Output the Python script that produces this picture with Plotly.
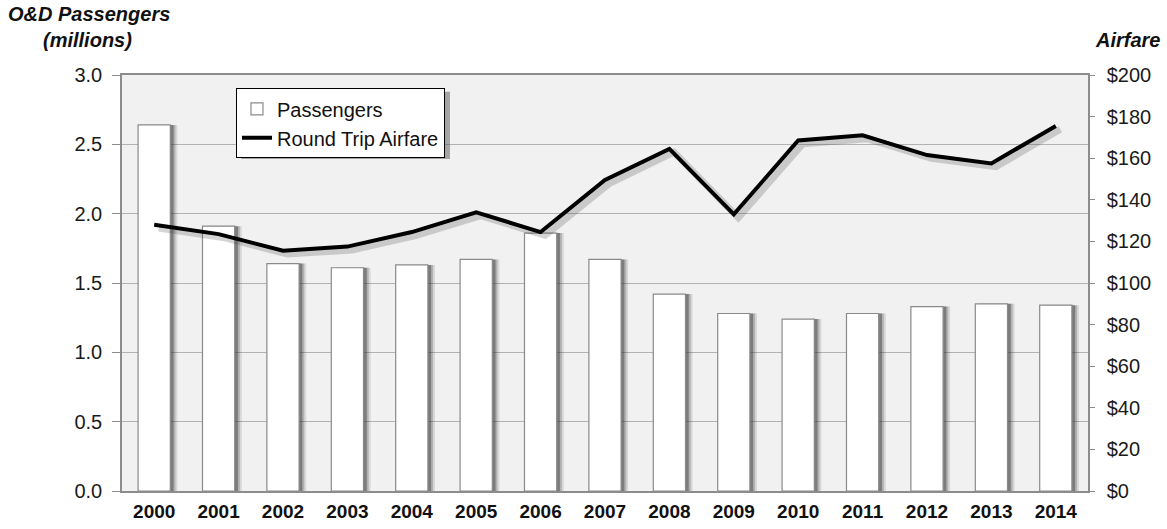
import plotly.graph_objects as go

# Annual O&D passengers (millions) and average round-trip airfare (USD)
years = [2000, 2001, 2002, 2003, 2004, 2005, 2006, 2007, 2008, 2009, 2010, 2011, 2012, 2013, 2014]
passengers = [2.64, 1.91, 1.64, 1.61, 1.63, 1.67, 1.86, 1.67, 1.42, 1.28, 1.24, 1.28, 1.33, 1.35, 1.34]
airfare = [128, 123.5, 115.5, 117.5, 124.5, 134, 124.5, 149.5, 164.5, 133, 168.5, 171, 161.5, 157.5, 175.5]
year_labels = [str(y) for y in years]

FONT = "Liberation Sans, Arial, sans-serif"
BAR_W = 0.5

fig = go.Figure()

# soft drop shadow to the right of each bar
for shift, alpha in [(0.11, 0.12), (0.08, 0.22), (0.05, 0.38)]:
    fig.add_trace(go.Bar(
        x=years, y=passengers, width=BAR_W, offset=-BAR_W / 2 + shift,
        marker=dict(color=f"rgba(40,40,40,{alpha})", line=dict(width=0)),
        showlegend=False, hoverinfo="skip",
    ))

fig.add_trace(go.Bar(
    x=years, y=passengers, width=BAR_W, name="Passengers",
    marker=dict(color="#ffffff", line=dict(color="#8a8a8a", width=1.2)),
))

# shadow under the airfare line
fig.add_trace(go.Scatter(
    x=[y + 0.07 for y in years], y=[a - 1.6 for a in airfare], yaxis="y2",
    mode="lines", line=dict(color="rgba(60,60,60,0.22)", width=7),
    showlegend=False, hoverinfo="skip",
))
fig.add_trace(go.Scatter(
    x=years, y=airfare, yaxis="y2", name="Round Trip Airfare",
    mode="lines", line=dict(color="#000000", width=4),
))

# legend drop shadow (paper coordinates, drawn beneath the legend box)
fig.add_shape(type="rect", xref="paper", yref="paper",
              x0=0.1235, x1=0.3395, y0=0.798, y1=0.960,
              line=dict(width=0), fillcolor="rgba(70,70,70,0.45)", layer="above")

fig.update_layout(
    width=1167, height=529,
    margin=dict(l=122, r=79, t=75, b=38, autoexpand=False),
    paper_bgcolor="#ffffff",
    plot_bgcolor="#f1f1f1",
    barmode="overlay",
    font=dict(family=FONT, color="#1a1a1a"),
    xaxis=dict(
        range=[1999.5, 2014.5], tickvals=years, ticktext=year_labels,
        tickfont=dict(size=19, family=FONT, color="#111111", weight="bold"),
        showgrid=False, showline=True, linecolor="#8c8c8c", linewidth=1.5,
        mirror=True, ticks="", zeroline=False, ticklabelstandoff=2,
        automargin=False,
    ),
    yaxis=dict(
        range=[0, 3], dtick=0.5, tickformat=".1f",
        tickfont=dict(size=20, family=FONT, color="#1a1a1a"),
        showgrid=True, gridcolor="#b2b2b2", gridwidth=1,
        showline=True, linecolor="#8c8c8c", linewidth=1.5,
        ticks="outside", ticklen=8, tickcolor="#8c8c8c", zeroline=False,
        ticklabelstandoff=6, automargin=False,
    ),
    yaxis2=dict(
        range=[0, 200], dtick=20, tickprefix="$", overlaying="y", side="right",
        tickfont=dict(size=20, family=FONT, color="#1a1a1a"),
        showgrid=False, showline=True, linecolor="#8c8c8c", linewidth=1.5,
        ticks="outside", ticklen=5, tickcolor="#8c8c8c", zeroline=False,
        ticklabelstandoff=8, automargin=False,
    ),
    legend=dict(
        x=0.118, y=0.968, xanchor="left", yanchor="top",
        bgcolor="#ffffff", bordercolor="#000000", borderwidth=1,
        font=dict(size=20, family=FONT, color="#111111"),
        traceorder="normal", itemwidth=30, tracegroupgap=0,
    ),
    annotations=[
        dict(text="<b><i>O&D Passengers</i></b>", xref="paper", yref="paper",
             x=-0.034, y=1.147, xanchor="center", yanchor="middle", showarrow=False,
             font=dict(size=20, family=FONT, color="#111111")),
        dict(text="<b><i>(millions)</i></b>", xref="paper", yref="paper",
             x=-0.036, y=1.084, xanchor="center", yanchor="middle", showarrow=False,
             font=dict(size=20, family=FONT, color="#111111")),
        dict(text="<b><i>Airfare</i></b>", xref="paper", yref="paper",
             x=1.0766, y=1.084, xanchor="right", yanchor="middle", showarrow=False,
             font=dict(size=20, family=FONT, color="#111111")),
    ],
)

fig.write_html("out.html")
